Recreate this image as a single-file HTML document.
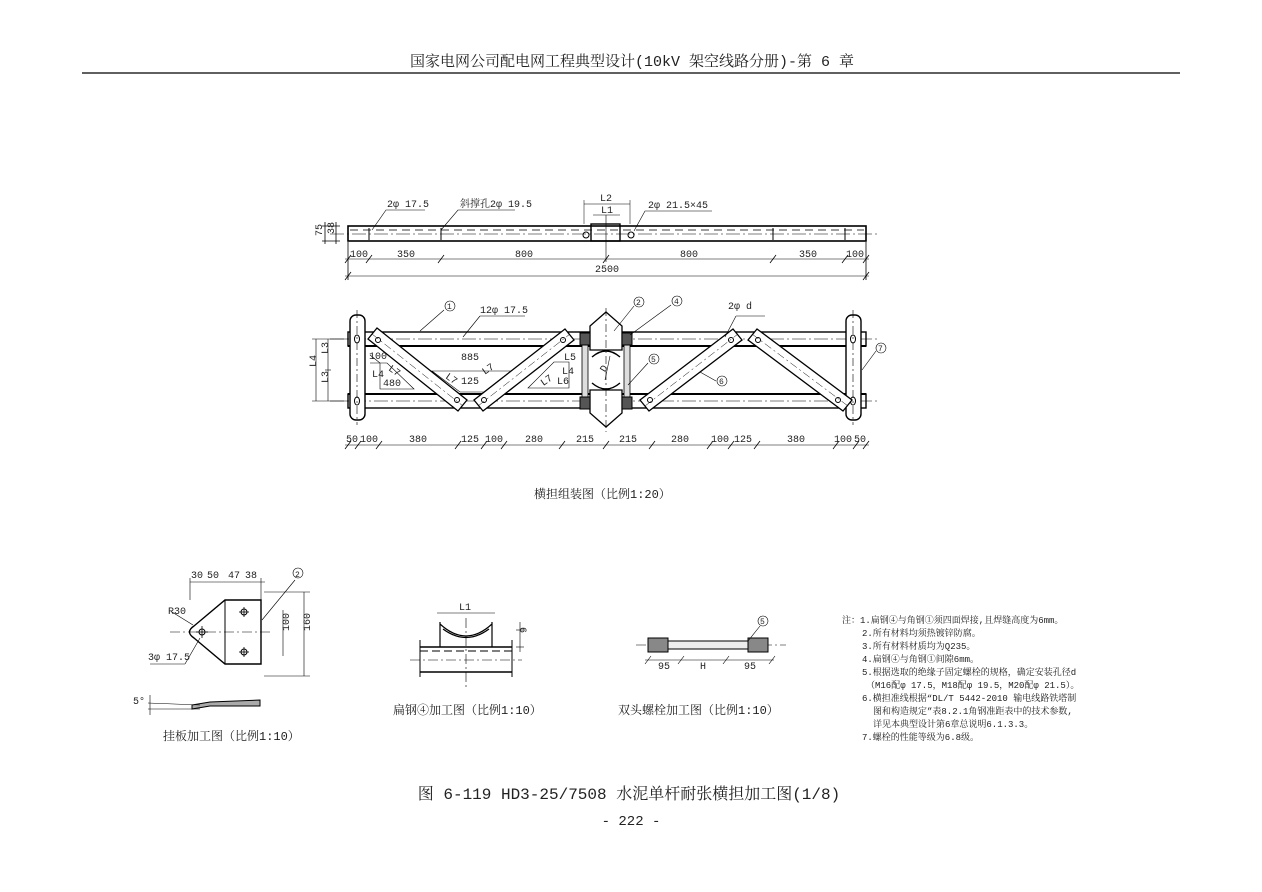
<!DOCTYPE html>
<html><head><meta charset="utf-8"><style>
body{margin:0;background:#fff}
svg{display:block}
text{font-family:"Liberation Mono","Noto Serif CJK SC",monospace;fill:#222}
</style></head><body>
<svg width="1262" height="892" viewBox="0 0 1262 892" xmlns="http://www.w3.org/2000/svg">
<text x="632" y="66" text-anchor="middle" font-size="15">国家电网公司配电网工程典型设计(10kV 架空线路分册)-第 6 章</text>
<line x1="82" y1="73" x2="1180" y2="73" stroke="#000" stroke-width="1.3"/>

<!-- TOP VIEW -->
<g stroke="#000" fill="none" stroke-width="1">
<rect x="348" y="226" width="518" height="15" stroke-width="1.6"/>
<line x1="330" y1="234" x2="880" y2="234" stroke-dasharray="14,3,2,3" stroke-width="0.6"/>
<line x1="350" y1="230" x2="864" y2="230" stroke-dasharray="8,5" stroke-width="0.8"/>
<rect x="591" y="224" width="29" height="17" stroke-width="1.4"/>
<line x1="606" y1="215" x2="606" y2="262" stroke-width="0.6"/>
<circle cx="586" cy="235" r="3"/><circle cx="631" cy="235" r="3"/>
<line x1="369" y1="228" x2="369" y2="240"/><line x1="441" y1="228" x2="441" y2="240"/>
<line x1="773" y1="228" x2="773" y2="240"/><line x1="845" y1="228" x2="845" y2="240"/>
<polyline points="372,230 386,210 425,210" stroke-width="0.6"/>
<polyline points="441,230 458,210 515,210" stroke-width="0.6"/>
<polyline points="634,231 645,211 712,211" stroke-width="0.6"/>
<line x1="584" y1="204" x2="630" y2="204" stroke-width="0.6"/>
<line x1="593" y1="215" x2="620" y2="215" stroke-width="0.6"/>
<line x1="584" y1="200" x2="584" y2="224" stroke-width="0.5"/><line x1="630" y1="200" x2="630" y2="224" stroke-width="0.5"/>
<line x1="345" y1="259" x2="869" y2="259" stroke-width="0.6"/>
<line x1="345" y1="276" x2="869" y2="276" stroke-width="0.6"/>
<g stroke-width="0.8">
<line x1="345" y1="263" x2="351" y2="255"/><line x1="366" y1="263" x2="372" y2="255"/><line x1="438" y1="263" x2="444" y2="255"/><line x1="603" y1="263" x2="609" y2="255"/><line x1="770" y1="263" x2="776" y2="255"/><line x1="842" y1="263" x2="848" y2="255"/><line x1="863" y1="263" x2="869" y2="255"/>
<line x1="345" y1="280" x2="351" y2="272"/><line x1="863" y1="280" x2="869" y2="272"/>
<line x1="348" y1="242" x2="348" y2="280"/><line x1="866" y1="242" x2="866" y2="280"/>
<line x1="322" y1="226" x2="340" y2="226"/><line x1="322" y1="241" x2="340" y2="241"/>
<line x1="325" y1="222" x2="325" y2="244"/><line x1="336" y1="222" x2="336" y2="244"/>
</g>
</g>
<g font-size="10">
<text x="387" y="207">2φ 17.5</text><text x="460" y="207">斜撑孔2φ 19.5</text>
<text x="648" y="208">2φ 21.5×45</text>
<text x="600" y="201">L2</text><text x="601" y="213">L1</text>
<text x="350" y="257">100</text><text x="397" y="257">350</text><text x="515" y="257">800</text><text x="680" y="257">800</text><text x="799" y="257">350</text><text x="846" y="257">100</text>
<text x="595" y="272">2500</text>
<text x="318" y="240" transform="rotate(-90 318 236)">75</text>
<text x="330" y="238" transform="rotate(-90 330 234)">38</text>
</g>

<!-- ASSEMBLY VIEW -->
<g stroke="#000" fill="none" stroke-width="1">
<rect x="348" y="332" width="518" height="14" stroke-width="1.4"/>
<rect x="348" y="394" width="518" height="14" stroke-width="1.4"/>
<line x1="348" y1="346" x2="866" y2="346" stroke-width="2"/>
<line x1="348" y1="394" x2="866" y2="394" stroke-width="2"/>
<line x1="330" y1="339" x2="880" y2="339" stroke-dasharray="14,3,2,3" stroke-width="0.6"/>
<line x1="330" y1="401" x2="880" y2="401" stroke-dasharray="14,3,2,3" stroke-width="0.6"/>
<rect x="350" y="315" width="15" height="105" rx="6" fill="#fff" stroke-width="1.4"/>
<rect x="846" y="315" width="15" height="105" rx="6" fill="#fff" stroke-width="1.4"/>
<line x1="357" y1="310" x2="357" y2="425" stroke-dasharray="8,3,2,3" stroke-width="0.6"/>
<line x1="853" y1="310" x2="853" y2="425" stroke-dasharray="8,3,2,3" stroke-width="0.6"/>
<ellipse cx="357" cy="339" rx="2.5" ry="4"/><ellipse cx="357" cy="401" rx="2.5" ry="4"/>
<ellipse cx="853" cy="339" rx="2.5" ry="4"/><ellipse cx="853" cy="401" rx="2.5" ry="4"/>
<path d="M590,332 L590,326 L606,312 L622,326 L622,350 L590,350 Z" fill="#fff" stroke-width="1.3"/>
<path d="M590,390 L622,390 L622,413 L606,427 L590,413 Z" fill="#fff" stroke-width="1.3"/>
<path d="M592,357 Q606,345 620,357" stroke-width="1.4"/>
<path d="M592,383 Q606,395 620,383" stroke-width="1.4"/>
<line x1="606" y1="308" x2="606" y2="432" stroke-dasharray="8,3,2,3" stroke-width="0.6"/>
<rect x="582" y="336" width="6" height="70" fill="#ddd" stroke-width="0.8"/>
<rect x="624" y="336" width="6" height="70" fill="#ddd" stroke-width="0.8"/>
<rect x="580" y="333" width="10" height="12" fill="#555"/><rect x="580" y="397" width="10" height="12" fill="#555"/>
<rect x="622" y="333" width="10" height="12" fill="#555"/><rect x="622" y="397" width="10" height="12" fill="#555"/>
<g stroke-width="1.3" fill="#fff">
<polygon points="368,339 377,328 467,400 458,411"/>
<polygon points="474,400 483,411 574,340 565,329"/>
<polygon points="640,400 649,411 742,340 733,329"/>
<polygon points="748,340 757,329 852,400 843,411"/>
</g>
<g stroke-width="0.5" stroke-dasharray="8,3,2,3">
<line x1="372" y1="334" x2="463" y2="406"/><line x1="478" y1="406" x2="570" y2="334"/>
<line x1="645" y1="406" x2="738" y2="334"/><line x1="752" y1="334" x2="848" y2="406"/>
</g>
<circle cx="378" cy="340" r="2.5"/><circle cx="457" cy="400" r="2.5"/><circle cx="484" cy="400" r="2.5"/><circle cx="563" cy="340" r="2.5"/>
<circle cx="650" cy="400" r="2.5"/><circle cx="731" cy="340" r="2.5"/><circle cx="758" cy="340" r="2.5"/><circle cx="838" cy="400" r="2.5"/>
<polyline points="370,355 380,363 380,389 414,389 387,363 370,363" stroke-width="0.6"/>
<polygon points="432,371 511,371 484,392 460,392" stroke-width="0.6"/>
<polygon points="528,388 569,388 569,362 554,362" stroke-width="0.6"/>
<g stroke-width="0.6">
<line x1="420" y1="331" x2="444" y2="310"/><line x1="463" y1="337" x2="480" y2="316" /><line x1="480" y1="316" x2="525" y2="316"/>
<line x1="614" y1="331" x2="634" y2="306"/><line x1="630" y1="335" x2="671" y2="305"/>
<line x1="628" y1="385" x2="648" y2="363"/><line x1="700" y1="372" x2="716" y2="381"/>
<line x1="725" y1="337" x2="736" y2="316"/><line x1="736" y1="316" x2="765" y2="316"/>
<line x1="862" y1="370" x2="876" y2="351"/><line x1="605" y1="380" x2="610" y2="356"/>
</g>
<circle cx="450" cy="306" r="5" stroke-width="0.6"/><circle cx="639" cy="302" r="5" stroke-width="0.6"/><circle cx="677" cy="301" r="5" stroke-width="0.6"/>
<circle cx="654" cy="359" r="5" stroke-width="0.6"/><circle cx="722" cy="381" r="5" stroke-width="0.6"/><circle cx="881" cy="348" r="5" stroke-width="0.6"/>
<g stroke-width="0.6">
<line x1="328" y1="339" x2="328" y2="401"/><line x1="316" y1="339" x2="316" y2="401"/>
<line x1="312" y1="339" x2="348" y2="339"/><line x1="312" y1="401" x2="348" y2="401"/>
<line x1="325" y1="370" x2="331" y2="370"/>
</g>
<line x1="345" y1="445" x2="869" y2="445" stroke-width="0.6"/>
<g stroke-width="0.8">
<line x1="345" y1="449" x2="351" y2="441"/><line x1="355" y1="449" x2="361" y2="441"/><line x1="376" y1="449" x2="382" y2="441"/><line x1="455" y1="449" x2="461" y2="441"/><line x1="481" y1="449" x2="487" y2="441"/><line x1="501" y1="449" x2="507" y2="441"/><line x1="559" y1="449" x2="565" y2="441"/><line x1="603" y1="449" x2="609" y2="441"/><line x1="649" y1="449" x2="655" y2="441"/><line x1="707" y1="449" x2="713" y2="441"/><line x1="728" y1="449" x2="734" y2="441"/><line x1="754" y1="449" x2="760" y2="441"/><line x1="833" y1="449" x2="839" y2="441"/><line x1="853" y1="449" x2="859" y2="441"/><line x1="863" y1="449" x2="869" y2="441"/>
</g>
</g>
<g font-size="10">
<text x="480" y="313">12φ 17.5</text><text x="728" y="309">2φ d</text>
<text x="447" y="309" font-size="8">1</text><text x="636" y="305" font-size="8">2</text><text x="674" y="304" font-size="8">4</text><text x="651" y="362" font-size="8">5</text><text x="719" y="384" font-size="8">6</text><text x="878" y="351" font-size="8">7</text>
<text x="369" y="359">100</text><text x="372" y="377">L4</text><text x="383" y="386">480</text><text x="389" y="372" transform="rotate(35 392 369)">L7</text>
<text x="461" y="360">885</text><text x="446" y="380" transform="rotate(35 449 377)">L7</text><text x="461" y="384">125</text><text x="482" y="372" transform="rotate(-35 488 369)">L7</text>
<text x="564" y="360">L5</text><text x="562" y="374">L4</text><text x="557" y="384">L6</text><text x="540" y="384" transform="rotate(-35 545 380)">L7</text>
<text x="600" y="372" transform="rotate(-60 603 368)">D</text>
<text x="327" y="361" transform="rotate(-90 324 357)">L3</text><text x="327" y="390" transform="rotate(-90 324 386)">L3</text><text x="315" y="374" transform="rotate(-90 312 370)">L4</text>
<text x="346" y="442">50</text><text x="360" y="442">100</text><text x="409" y="442">380</text><text x="461" y="442">125</text><text x="485" y="442">100</text><text x="525" y="442">280</text><text x="576" y="442">215</text><text x="619" y="442">215</text><text x="671" y="442">280</text><text x="711" y="442">100</text><text x="734" y="442">125</text><text x="787" y="442">380</text><text x="834" y="442">100</text><text x="854" y="442">50</text>
</g>
<text x="534" y="498" font-size="12">横担组装图（比例1:20）</text>

<!-- HANGING PLATE -->
<g stroke="#000" fill="none" stroke-width="1">
<path d="M225,600 L261,600 L261,664 L225,664 L194,638 Q185,632 194,626 Z" stroke-width="1.4"/>
<line x1="225" y1="600" x2="225" y2="664"/>
<line x1="170" y1="632" x2="270" y2="632" stroke-dasharray="10,3,2,3" stroke-width="0.6"/>
<g stroke-width="0.8"><line x1="244" y1="607" x2="244" y2="617"/><line x1="239" y1="612" x2="249" y2="612"/>
<line x1="244" y1="647" x2="244" y2="657"/><line x1="239" y1="652" x2="249" y2="652"/>
<line x1="202" y1="626" x2="202" y2="638"/><line x1="196" y1="632" x2="208" y2="632"/></g>
<circle cx="244" cy="612" r="3"/><circle cx="244" cy="652" r="3"/><circle cx="202" cy="632" r="3"/>
<g stroke-width="0.6">
<line x1="190" y1="582" x2="265" y2="582"/><line x1="190" y1="578" x2="190" y2="600"/><line x1="261" y1="578" x2="261" y2="600"/>
<line x1="172" y1="612" x2="193" y2="625"/><line x1="150" y1="664" x2="185" y2="664"/><line x1="185" y1="664" x2="200" y2="638"/>
<line x1="262" y1="620" x2="295" y2="580"/>
<line x1="283" y1="610" x2="283" y2="656"/><line x1="304" y1="592" x2="304" y2="676"/>
<line x1="264" y1="592" x2="310" y2="592"/><line x1="264" y1="676" x2="310" y2="676"/>
</g>
<path d="M192,705 L210,702 L260,700 L260,706 L210,706 L192,709 Z" fill="#aaa" stroke-width="1"/>
<line x1="148" y1="703" x2="200" y2="705" stroke-width="0.6"/><line x1="148" y1="709" x2="200" y2="709" stroke-width="0.6"/>
<line x1="150" y1="695" x2="150" y2="715" stroke-width="0.6"/>
</g>
<g font-size="10">
<text x="191" y="578">30</text><text x="207" y="578">50</text><text x="228" y="578">47</text><text x="245" y="578">38</text>
<circle cx="298" cy="573" r="5" fill="none" stroke="#000" stroke-width="0.6"/><text x="295" y="577" font-size="8">2</text>
<text x="168" y="614">R30</text><text x="148" y="660">3φ 17.5</text>
<text x="286" y="640" transform="rotate(-90 283 634)">100</text><text x="307" y="640" transform="rotate(-90 304 634)">160</text>
<text x="133" y="704">5°</text>
</g>
<text x="163" y="740" font-size="12">挂板加工图（比例1:10）</text>

<!-- FLAT STEEL -->
<g stroke="#000" fill="none" stroke-width="1">
<line x1="420" y1="647" x2="512" y2="647" stroke-width="1.4"/>
<line x1="420" y1="672" x2="512" y2="672" stroke-width="1.4"/>
<line x1="420" y1="640" x2="420" y2="677"/><line x1="512" y1="640" x2="512" y2="677"/>
<line x1="420" y1="651" x2="512" y2="651" stroke-dasharray="8,4"/>
<line x1="410" y1="660" x2="522" y2="660" stroke-dasharray="10,3,2,3" stroke-width="0.6"/>
<line x1="466" y1="618" x2="466" y2="690" stroke-dasharray="10,3,2,3" stroke-width="0.6"/>
<path d="M440,622 L440,647 M492,622 L492,647 M440,624 Q466,648 492,624 M443,629 Q466,646 489,629" stroke-width="1.2"/>
<line x1="437" y1="613" x2="495" y2="613" stroke-width="0.6"/>
<line x1="516" y1="630" x2="524" y2="630" stroke-width="0.6"/><line x1="516" y1="647" x2="524" y2="647" stroke-width="0.6"/><line x1="520" y1="622" x2="520" y2="652" stroke-width="0.6"/>
</g>
<text x="459" y="610" font-size="10">L1</text>
<text x="523" y="636" font-size="10" transform="rotate(90 526 630)">6</text>
<text x="393" y="714" font-size="12">扁钢④加工图（比例1:10）</text>

<!-- BOLT -->
<g stroke="#000" fill="none" stroke-width="1">
<line x1="636" y1="645" x2="786" y2="645" stroke-dasharray="10,3,2,3" stroke-width="0.6"/>
<rect x="648" y="641" width="120" height="8" fill="#eee"/>
<rect x="648" y="638" width="20" height="14" fill="#888"/>
<rect x="748" y="638" width="20" height="14" fill="#888"/>
<g stroke-width="0.6"><line x1="645" y1="660" x2="774" y2="660"/>
<line x1="645" y1="664" x2="651" y2="656"/><line x1="678" y1="664" x2="684" y2="656"/><line x1="723" y1="664" x2="729" y2="656"/><line x1="769" y1="664" x2="775" y2="656"/>
<line x1="748" y1="641" x2="760" y2="626"/></g>
<circle cx="763" cy="621" r="5" stroke-width="0.6"/>
</g>
<g font-size="10"><text x="760" y="624" font-size="8">5</text><text x="658" y="669">95</text><text x="700" y="669">H</text><text x="744" y="669">95</text></g>
<text x="618" y="714" font-size="12">双头螺栓加工图（比例1:10）</text>

<!-- NOTES -->
<g font-size="9">
<text x="842" y="623">注：1.扁钢④与角钢①须四面焊接,且焊缝高度为6mm。</text>
<text x="862" y="636">2.所有材料均须热镀锌防腐。</text>
<text x="862" y="649">3.所有材料材质均为Q235。</text>
<text x="862" y="662">4.扁钢④与角钢①间隙6mm。</text>
<text x="862" y="675">5.根据选取的绝缘子固定螺栓的规格，确定安装孔径d</text>
<text x="866" y="688">（M16配φ 17.5，M18配φ 19.5，M20配φ 21.5）。</text>
<text x="862" y="701">6.横担准线根据“DL/T 5442-2010 输电线路铁塔制</text>
<text x="873" y="714">图和构造规定”表8.2.1角钢准距表中的技术参数,</text>
<text x="873" y="727">详见本典型设计第6章总说明6.1.3.3。</text>
<text x="862" y="740">7.螺栓的性能等级为6.8级。</text>
</g>

<text x="629" y="799" font-size="16" text-anchor="middle">图 6-119  HD3-25/7508 水泥单杆耐张横担加工图(1/8)</text>
<text x="631" y="825" font-size="14" text-anchor="middle">- 222 -</text>
</svg>
</body></html>
